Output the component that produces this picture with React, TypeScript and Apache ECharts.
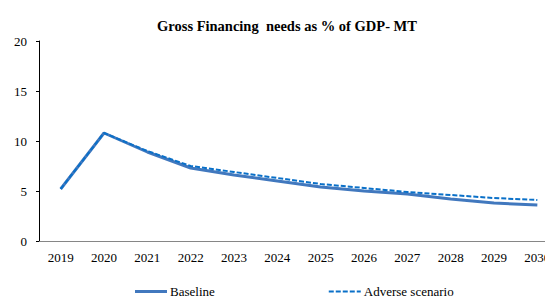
import React, { useEffect, useRef } from "react";
import * as echarts from "echarts";

const years = ["2019", "2020", "2021", "2022", "2023", "2024", "2025", "2026", "2027", "2028", "2029", "2030"];
const baseline = [5.2, 10.8, 8.9, 7.3, 6.6, 6.0, 5.4, 5.0, 4.7, 4.2, 3.8, 3.6];
const adverse = [5.2, 10.8, 9.0, 7.5, 6.9, 6.3, 5.7, 5.3, 4.9, 4.6, 4.3, 4.1];
const yTicks = { min: 0, max: 20, interval: 5 };

const FONT = "'Liberation Serif', 'Times New Roman', serif";

export default function App() {
  const ref = useRef<HTMLDivElement>(null);
  useEffect(() => {
    if (!ref.current) return;
    const chart = echarts.init(ref.current, null, { renderer: "svg" });
    chart.setOption({
      animation: false,
      textStyle: { fontFamily: FONT },
      title: {
        text: "Gross Financing  needs as % of GDP- MT",
        left: 282,
        textAlign: "center",
        top: 13,
        textStyle: { fontFamily: FONT, fontSize: 14.5, fontWeight: "bold", color: "#000" },
      },
      legend: {
        left: 130,
        top: 280,
        itemWidth: 32,
        itemHeight: 10,
        itemGap: 114,
        textStyle: { fontFamily: FONT, fontSize: 13, color: "#000", padding: [0, 0, 0, -2] },
        data: [
          { name: "Baseline", icon: "path://M0,0 L32,0 L32,3 L0,3 Z" },
          {
            name: "Adverse scenario",
            icon: "path://M0,0h5v2H0z M7,0h5v2H7z M14,0h5v2H14z M21,0h5v2H21z M28,0h4v2H28z",
          },
        ],
      },
      grid: { left: 39, top: 41, height: 200, width: 520, outerBoundsMode: "none", containLabel: false },
      xAxis: {
        type: "category",
        data: years,
        boundaryGap: true,
        axisLine: { lineStyle: { color: "#868686", width: 1 } },
        axisTick: { inside: true, length: 4, lineStyle: { color: "#000" } },
        axisLabel: { fontFamily: FONT, fontSize: 13, color: "#000", margin: 10 },
      },
      yAxis: {
        type: "value",
        min: yTicks.min,
        max: yTicks.max,
        interval: yTicks.interval,
        splitLine: { show: false },
        axisLine: { show: true, lineStyle: { color: "#000", width: 1 } },
        axisTick: { show: true, length: 3, lineStyle: { color: "#000" } },
        axisLabel: { fontFamily: FONT, fontSize: 13, color: "#000", margin: 12 },
      },
      series: [
        {
          name: "Baseline",
          type: "line",
          data: baseline,
          symbol: "none",
          lineStyle: { color: "#4178BE", width: 3 },
          itemStyle: { color: "#4178BE" },
          z: 2,
        },
        {
          name: "Adverse scenario",
          type: "line",
          data: adverse,
          symbol: "none",
          lineStyle: { color: "#0A70C8", width: 2, type: [5, 2] },
          itemStyle: { color: "#0A70C8" },
          z: 3,
        },
      ],
    });
    return () => chart.dispose();
  }, []);
  return <div ref={ref} style={{ width: 545, height: 298, position: "absolute", left: 0, top: 0 }} />;
}
